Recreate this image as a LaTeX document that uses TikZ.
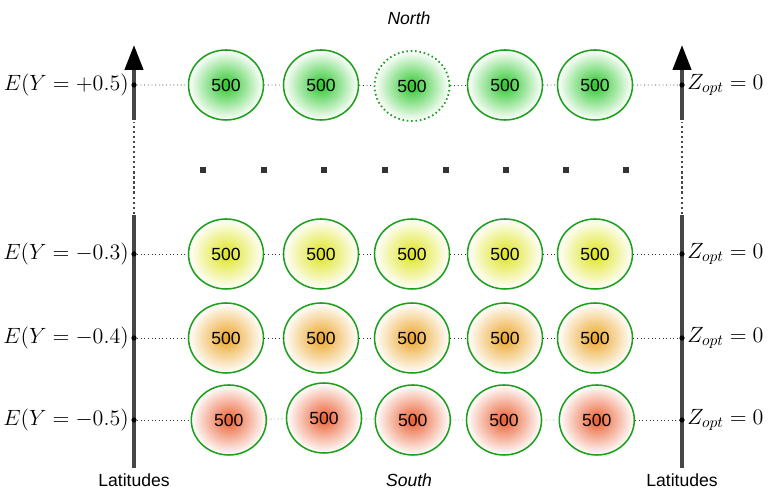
\RequirePackage{fix-cm}
\documentclass[tikz,border=0pt]{standalone}
\usepackage{fontspec}
\setsansfont{Liberation Sans}
\usetikzlibrary{shapes.geometric,arrows.meta}

\definecolor{rimgreen}{RGB}{30,160,30}
\definecolor{northgreen}{RGB}{45,200,45}
\definecolor{midyellow}{RGB}{222,228,30}
\definecolor{midorange}{RGB}{235,165,40}
\definecolor{southred}{RGB}{235,95,50}
\definecolor{axisgray}{RGB}{70,70,70}

\tikzstyle{cell} = [draw=rimgreen, line width=1.1pt, ellipse,
  minimum width=1.875cm, minimum height=1.75cm, inner sep=0pt,
  font=\sffamily\fontsize{12.5}{15}\selectfont]
\tikzstyle{northcell} = [cell, inner color=northgreen, outer color=white]
\tikzstyle{yellowcell} = [cell, inner color=midyellow, outer color=white]
\tikzstyle{orangecell} = [cell, inner color=midorange, outer color=white]
\tikzstyle{southcell} = [cell, inner color=southred, outer color=white]
\tikzstyle{axisline} = [draw=axisgray, line width=2.8pt]
\tikzstyle{axisdot} = [circle, fill=black, inner sep=0pt, minimum size=0.13cm]
\tikzstyle{gapdot} = [rectangle, fill=black!80, inner sep=0pt, minimum size=0.15cm]
\tikzstyle{link} = [draw=black!80, dotted, line width=0.6pt]
\tikzstyle{rowlabel} = [inner sep=1.5pt, font=\fontsize{15.7}{18}\selectfont]
\tikzstyle{caption} = [font=\sffamily\fontsize{12.5}{15}\selectfont]

\begin{document}
\begin{tikzpicture}
        \useasboundingbox (0,0) rectangle (19.2,12.25);

        % latitude axes
        \draw[axisline, -{Triangle[width=0.45cm,length=0.62cm,color=black]}] (3.35,9.25) -- (3.35,11.125);
        \draw[axisline] (3.35,0.55) -- (3.35,6.875);
        \draw[draw=axisgray, dotted, line width=1.6pt] (3.35,6.9) -- (3.35,9.2);
        \draw[axisline, -{Triangle[width=0.45cm,length=0.62cm,color=black]}] (17.05,9.25) -- (17.05,11.125);
        \draw[axisline] (17.05,0.55) -- (17.05,6.875);
        \draw[draw=axisgray, dotted, line width=1.6pt] (17.05,6.9) -- (17.05,9.2);

        \node [axisdot] (l1) at (3.35,10.125) {};
        \node [axisdot] (l2) at (3.35,5.9)    {};
        \node [axisdot] (l3) at (3.35,3.8)    {};
        \node [axisdot] (l4) at (3.35,1.75)   {};
        \node [axisdot] (r1) at (17.05,10.125) {};
        \node [axisdot] (r2) at (17.05,5.9)    {};
        \node [axisdot] (r3) at (17.05,3.8)    {};
        \node [axisdot] (r4) at (17.05,1.75)   {};

        \node [rowlabel, anchor=east] (e1) at (l1.west) {$E(Y=+0.5)$};
        \node [rowlabel, anchor=east] (e2) at (l2.west) {$E(Y=-0.3)$};
        \node [rowlabel, anchor=east] (e3) at (l3.west) {$E(Y=-0.4)$};
        \node [rowlabel, anchor=east] (e4) at (l4.west) {$E(Y=-0.5)$};
        \node [rowlabel, anchor=west] (z1) at (r1.east) {$Z_{opt}=0$};
        \node [rowlabel, anchor=west] (z2) at (r2.east) {$Z_{opt}=0$};
        \node [rowlabel, anchor=west] (z3) at (r3.east) {$Z_{opt}=0$};
        \node [rowlabel, anchor=west] (z4) at (r4.east) {$Z_{opt}=0$};

        % rows of cells
        \node [northcell] (n1) at ( 5.65,10.125) {500};
        \node [northcell] (n2) at ( 8.025,10.125) {500};
        \node [northcell, dotted, line width=1.3pt] (n3) at (10.3,10.1) {500};
        \node [northcell] (n4) at (12.625,10.125) {500};
        \node [northcell] (n5) at (14.875,10.125) {500};

        \node [yellowcell] (y1) at ( 5.65,5.9) {500};
        \node [yellowcell] (y2) at ( 8.025,5.9) {500};
        \node [yellowcell] (y3) at (10.3,5.9) {500};
        \node [yellowcell] (y4) at (12.625,5.9) {500};
        \node [yellowcell] (y5) at (14.875,5.9) {500};

        \node [orangecell] (o1) at ( 5.65,3.8) {500};
        \node [orangecell] (o2) at ( 8.025,3.8) {500};
        \node [orangecell] (o3) at (10.3,3.8) {500};
        \node [orangecell] (o4) at (12.625,3.8) {500};
        \node [orangecell] (o5) at (14.875,3.8) {500};

        \node [southcell] (s1) at ( 5.72,1.75) {500};
        \node [southcell] (s2) at ( 8.1,1.8) {500};
        \node [southcell] (s3) at (10.32,1.75) {500};
        \node [southcell] (s4) at (12.6,1.75) {500};
        \node [southcell] (s5) at (14.92,1.75) {500};

        \draw[link] (l1) -- (n1) -- (n2) -- (n3) -- (n4) -- (n5) -- (r1);
        \draw[link] (l2) -- (y1) -- (y2) -- (y3) -- (y4) -- (y5) -- (r2);
        \draw[link] (l3) -- (o1) -- (o2) -- (o3) -- (o4) -- (o5) -- (r3);
        \draw[link] (l4) -- (s1);
        \draw[link, draw=rimgreen!60] (s1) -- (s2) -- (s3) -- (s4) -- (s5);
        \draw[link] (s5) -- (r4);

        % omitted latitudes
        \foreach \x [count=\i] in {5.075,6.6,8.1,9.625,11.15,12.65,14.15,15.65}
          \node [gapdot] (g\i) at (\x,8.0) {};

        \node [caption] (north) at (10.225,11.8) {\itshape North};
        \node [caption] (south) at (10.225,0.25) {\itshape South};
        \node [caption] (latl)  at (3.35,0.25)  {Latitudes};
        \node [caption] (latr)  at (17.05,0.25) {Latitudes};
      \end{tikzpicture}
\end{document}
